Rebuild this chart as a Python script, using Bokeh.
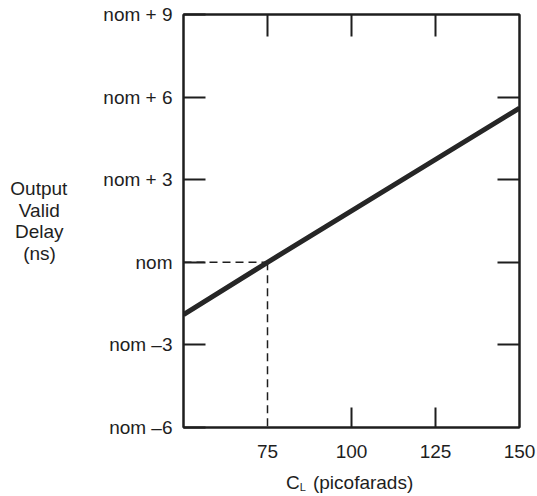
from bokeh.plotting import figure
from bokeh.models import Range1d, FixedTicker, LinearAxis
from bokeh.embed import file_html
from bokeh.resources import INLINE

# Data
cl_pf = [50, 75, 150]
delay_ns = [-1.9, 0.0, 5.6]
nominal_cl = 75
nominal_delay = 0.0

y_ticks = [-6, -3, 0, 3, 6, 9]
y_tick_labels = ["nom \u20136", "nom \u20133", "nom", "nom + 3", "nom + 6", "nom + 9"]
x_ticks = [75, 100, 125, 150]
x_tick_labels = ["75", "100", "125", "150"]
TS = "\u2009"  # thin space, used to centre the right-aligned title lines
y_title = "\n".join(["Output", "Valid" + TS * 2, "Delay" + TS, "(ns)" + TS * 3])
x_title_main = "C\u2002\u2009(picofarads)" + TS
x_title_sub = "L"
x_title_sub_at = 85.5

FONT = "Liberation Sans"
INK = "#1e1e1e"

p = figure(width=537, height=496, output_backend="svg", toolbar_location=None,
           x_range=Range1d(50, 150), y_range=Range1d(-6, 9),
           min_border_left=183, min_border_right=18, min_border_top=14, min_border_bottom=69,
           x_axis_location=None, y_axis_location=None)
p.grid.visible = False
p.outline_line_color = INK
p.outline_line_width = 2
p.background_fill_color = "white"
p.border_fill_color = "white"

# bottom axis: labels at majors, tick marks at minors
bx = LinearAxis(ticker=FixedTicker(ticks=x_ticks, minor_ticks=[100, 125]))
bx.major_label_overrides = {t: s for t, s in zip(x_ticks, x_tick_labels)}
bx.major_tick_in = 0
bx.major_tick_out = 0
bx.minor_tick_in = 20
bx.minor_tick_out = 0
bx.major_label_standoff = 17
bx.axis_label = x_title_main
bx.axis_label_standoff = 11
p.add_layout(bx, "below")

# subscript of the x title
sx = LinearAxis(ticker=FixedTicker(ticks=[x_title_sub_at], minor_ticks=[]))
sx.major_label_overrides = {x_title_sub_at: x_title_sub}
sx.axis_line_color = None
sx.major_tick_line_color = None
sx.minor_tick_line_color = None
sx.major_tick_in = 0
sx.major_tick_out = 0
sx.major_label_standoff = -15
sx.major_label_text_font = FONT
sx.major_label_text_font_size = "11px"
sx.major_label_text_color = INK
p.add_layout(sx, "below")

# left axis
ly = LinearAxis(ticker=FixedTicker(ticks=y_ticks, minor_ticks=[]))
ly.major_label_overrides = {t: s for t, s in zip(y_ticks, y_tick_labels)}
ly.major_tick_in = 22
ly.major_tick_out = 0
ly.major_label_standoff = 11
ly.axis_label = y_title
ly.axis_label_orientation = "horizontal"
ly.axis_label_text_line_height = 1.02
ly.axis_label_standoff = 33
p.add_layout(ly, "left")

# top axis (ticks only)
top_ticks = [75, 100, 125]
tx = LinearAxis(ticker=FixedTicker(ticks=top_ticks, minor_ticks=[]))
tx.major_label_overrides = {t: "" for t in top_ticks}
tx.major_tick_in = 22
tx.major_tick_out = 0
tx.major_label_standoff = 0
p.add_layout(tx, "above")

# right axis (ticks only)
right_ticks = [-3, 0, 3, 6]
ry = LinearAxis(ticker=FixedTicker(ticks=right_ticks, minor_ticks=[]))
ry.major_label_overrides = {t: "" for t in right_ticks}
ry.major_tick_in = 22
ry.major_tick_out = 0
ry.major_label_standoff = 0
p.add_layout(ry, "right")

for ax in (bx, ly, tx, ry):
    ax.axis_line_color = INK
    ax.axis_line_width = 2
    ax.major_tick_line_color = INK
    ax.major_tick_line_width = 2
    ax.minor_tick_line_color = INK
    ax.minor_tick_line_width = 2
    ax.major_label_text_font = FONT
    ax.major_label_text_color = INK
    ax.major_label_text_font_size = "19px"
for ax in (bx, ly):
    ax.axis_label_text_font = FONT
    ax.axis_label_text_font_style = "normal"
    ax.axis_label_text_font_size = "19px"
    ax.axis_label_text_color = INK

# dashed reference lines
p.line([cl_pf[0], nominal_cl], [nominal_delay, nominal_delay], line_color=INK,
       line_width=1.5, line_dash="8 5")
p.line([nominal_cl, nominal_cl], [nominal_delay, y_ticks[0]], line_color=INK,
       line_width=1.5, line_dash="8 5")

# main line
p.line(cl_pf, delay_ns, line_color="#262626", line_width=5)

open("out.html", "w").write(file_html(p, INLINE))
